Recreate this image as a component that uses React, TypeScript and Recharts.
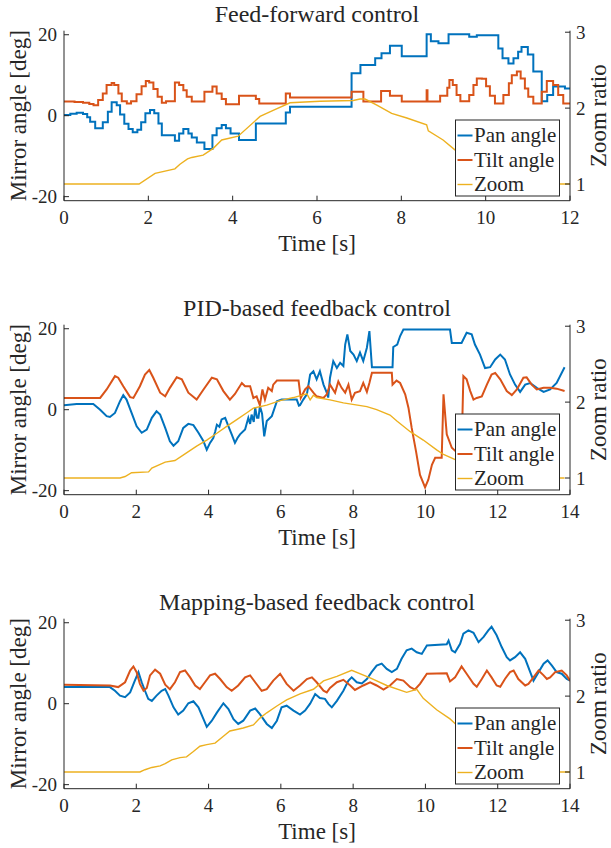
import React from "react";
import { Line, LineChart, XAxis, YAxis } from "recharts";

// ---------------------------------------------------------------------------
// Data — [time s, value] pairs
// ---------------------------------------------------------------------------

type Pt = [number, number];

const panelTitles = [
  "Feed-forward control",
  "PID-based feedback control",
  "Mapping-based feedback control",
];
const timeTicksShort = [0, 2, 4, 6, 8, 10, 12];
const timeTicksLong = [0, 2, 4, 6, 8, 10, 12, 14];
const angleTicks = [-20, 0, 20];
const zoomTicks = [1, 2, 3];
const legendLabels = ["Pan angle", "Tilt angle", "Zoom"];

// Feed-forward (stepped commands)
const ffPan: Pt[] = [
  [0, 0.2], [0.15, 0.5], [0.3, 0.7], [0.45, 0.4], [0.55, -0.4], [0.62, -1.5],
  [0.74, -3.1], [0.92, -1.6], [1.04, 1.0], [1.13, 3.3], [1.25, 2.6], [1.33, 0.3],
  [1.43, -2.0], [1.53, -3.3], [1.63, -4.1], [1.74, -3.5], [1.83, -1.6], [1.93, 0.6],
  [2.04, 1.4], [2.14, 0.6], [2.24, -1.9], [2.32, -4.8], [2.63, -6.2], [2.73, -4.4],
  [2.83, -3.3], [2.95, -4.4], [3.03, -5.4], [3.15, -6.6], [3.33, -8.2], [3.52, -4.8],
  [3.62, -3.1], [3.74, -2.3], [3.84, -3.1], [3.95, -4.4], [4.15, -6.0], [4.55, -1.9],
  [5.26, 0.8], [5.36, 2.2], [6.82, 10.5], [7.03, 12.5], [7.38, 14.2], [7.53, 15.4],
  [7.73, 17.3], [8.01, 14.7], [8.6, 20.1], [8.7, 18.4], [8.88, 17.9], [9.12, 20.1],
  [9.61, 19.5], [9.79, 19.9], [10.3, 16.6], [10.4, 14.2], [10.54, 12.9], [10.66, 14.2],
  [10.77, 15.8], [10.85, 17.0], [11.0, 15.1], [11.13, 10.9], [11.33, 3.6], [11.46, 5.1],
  [11.6, 7.2], [11.88, 6.7], [12.0, 6.7],
];
const ffTilt: Pt[] = [
  [0, 3.5], [0.25, 3.4], [0.45, 3.2], [0.6, 2.9], [0.7, 2.6], [0.81, 3.9], [0.92, 5.5],
  [1.01, 7.6], [1.13, 8.1], [1.19, 7.6], [1.29, 5.5], [1.37, 3.6], [1.49, 3.0],
  [1.59, 3.6], [1.72, 5.3], [1.84, 7.3], [1.94, 8.6], [2.02, 8.2], [2.12, 6.6],
  [2.22, 4.7], [2.32, 3.2], [2.42, 3.6], [2.63, 8.2], [2.73, 7.6], [2.83, 6.3],
  [2.91, 4.7], [3.03, 3.5], [3.33, 5.9], [3.52, 7.2], [3.62, 5.5], [3.74, 4.1],
  [3.84, 2.8], [4.15, 4.9], [4.55, 4.1], [4.63, 3.0], [5.26, 5.5], [5.36, 4.5],
  [6.82, 5.9], [7.1, 3.5], [7.52, 6.1], [7.73, 4.9], [8.01, 3.5], [8.6, 6.3],
  [8.62, 3.5], [8.92, 4.9], [9.09, 6.9], [9.14, 8.8], [9.22, 7.6], [9.31, 5.1],
  [9.4, 3.6], [9.61, 5.1], [9.71, 7.6], [9.79, 9.2], [9.91, 9.1], [10.01, 7.3],
  [10.1, 4.9], [10.22, 3.0], [10.42, 5.1], [10.55, 8.0], [10.62, 10.0], [10.74, 10.9],
  [10.83, 9.2], [10.93, 6.7], [11.01, 4.7], [11.13, 3.0], [11.33, 5.9], [11.45, 8.6],
  [11.6, 7.6], [11.72, 5.1], [11.84, 3.0], [12.0, 3.0],
];
const ffZoom: Pt[] = [
  [0, 1.0], [1.78, 1.0], [2.16, 1.14], [2.63, 1.2], [2.75, 1.26], [2.93, 1.33],
  [3.03, 1.35], [3.3, 1.38], [3.54, 1.47], [3.74, 1.58], [4.13, 1.63], [4.65, 1.89],
  [4.96, 1.97], [5.36, 2.07], [6.07, 2.09], [6.86, 2.1], [7.02, 2.12], [7.14, 2.12],
  [7.42, 2.04], [7.77, 1.93], [8.13, 1.87], [8.6, 1.78], [8.64, 1.7], [8.99, 1.58],
  [9.27, 1.45], [9.8, 1.28], [10.5, 1.05], [10.7, 1.0], [12.0, 1.0],
];

// PID-based feedback
const pidPan: Pt[] = [
  [0, 1.1], [0.35, 1.4], [0.81, 1.4], [1.0, 0], [1.18, -1.6], [1.27, -1.8], [1.41, -0.8],
  [1.55, 2.1], [1.64, 3.6], [1.73, 2.5], [1.87, -0.8], [2.01, -4.1], [2.15, -5.7],
  [2.29, -4.9], [2.43, -2.0], [2.56, -0.4], [2.66, -1.2], [2.8, -4.5], [2.93, -7.8],
  [3.03, -8.9], [3.16, -7.8], [3.3, -4.5], [3.44, -3.5], [3.58, -3.8], [3.72, -5.7],
  [3.86, -7.8], [3.95, -9.9], [4.04, -8.2], [4.13, -7.0], [4.18, -5.5], [4.23, -3.7],
  [4.3, -4.2], [4.36, -2.4], [4.46, -2.0], [4.55, -4.1], [4.64, -6.1], [4.73, -8.2],
  [4.8, -7.0], [4.87, -6.1], [5.01, -4.9], [5.1, -2.0], [5.15, -3.5], [5.19, -1.2],
  [5.25, -3.0], [5.29, 0.5], [5.34, -2.0], [5.38, -2.0], [5.42, 0.9], [5.48, -1.0],
  [5.54, -6.6], [5.61, -2.8], [5.75, -1.6], [5.89, 2.1], [6.02, 2.5], [6.44, 2.5],
  [6.5, 1.0], [6.53, 1.1], [6.62, 2.5], [6.72, 3.8], [6.81, 8.7], [6.9, 9.5],
  [6.99, 7.5], [7.08, 9.5], [7.18, 6.2], [7.27, 4.2], [7.31, 3.0], [7.36, 7.9],
  [7.45, 12.0], [7.55, 10.3], [7.64, 11.6], [7.73, 10.8], [7.78, 16.1], [7.84, 18.6],
  [7.92, 14.5], [8.01, 13.6], [8.1, 12.0], [8.19, 14.1], [8.28, 12.0], [8.38, 15.3],
  [8.45, 19.4], [8.52, 10.5], [9.09, 10.5], [9.11, 15.5], [9.22, 16.1], [9.3, 18.2],
  [9.39, 19.8], [10.68, 19.8], [10.73, 16.5], [11.0, 16.5], [11.14, 19.0], [11.28, 18.6],
  [11.37, 16.1], [11.51, 13.6], [11.65, 10.3], [11.79, 10.5], [11.93, 12.4], [12.07, 13.6],
  [12.2, 12.4], [12.34, 8.7], [12.48, 6.2], [12.62, 4.4], [12.76, 6.2], [12.9, 6.6],
  [13.08, 5.4], [13.27, 4.4], [13.45, 5.0], [13.63, 6.6], [13.85, 10.5],
];
const pidTilt: Pt[] = [
  [0, 2.9], [1.0, 2.9], [1.18, 5.0], [1.41, 8.3], [1.5, 7.9], [1.64, 5.8], [1.83, 3.1],
  [1.92, 2.9], [2.1, 5.8], [2.24, 8.7], [2.36, 9.8], [2.47, 7.9], [2.66, 4.2],
  [2.8, 3.3], [2.93, 5.4], [3.12, 8.0], [3.26, 7.5], [3.44, 4.2], [3.67, 2.5],
  [3.86, 5.0], [4.09, 7.9], [4.23, 7.5], [4.41, 4.6], [4.59, 2.5], [4.73, 3.9],
  [4.92, 6.6], [5.01, 5.8], [5.15, 5.8], [5.24, 2.9], [5.33, 3.3], [5.42, 1.1],
  [5.49, 5.0], [5.56, 2.5], [5.65, 5.4], [5.75, 4.6], [5.79, 6.2], [5.89, 7.2],
  [6.49, 7.2], [6.55, 2.9], [6.67, 5.0], [6.76, 5.8], [6.9, 4.2], [6.99, 3.3],
  [7.18, 2.9], [7.27, 3.8], [7.36, 6.2], [7.5, 4.2], [7.59, 7.0], [7.68, 5.4],
  [7.78, 4.2], [7.87, 6.2], [7.96, 2.5], [8.05, 4.2], [8.19, 4.6], [8.28, 6.6],
  [8.38, 4.4], [8.45, 6.6], [8.52, 9.1], [9.07, 9.1], [9.09, 6.2], [9.2, 7.2],
  [9.3, 6.6], [9.44, 3.8], [9.53, 0.5], [9.62, -4.5], [9.74, -10.3], [9.85, -16.1],
  [9.99, -19.2], [10.08, -17.3], [10.18, -13.6], [10.27, -11.9], [10.45, -11.9],
  [10.5, 3.8], [10.59, -6.1], [10.73, -9.4], [10.84, -10.3], [11.0, -10.5],
  [11.05, 8.3], [11.14, 7.5], [11.24, 4.6], [11.33, 2.5], [11.42, 2.9], [11.56, 3.3],
  [11.7, 6.2], [11.83, 8.7], [11.93, 9.1], [12.07, 7.5], [12.25, 4.6], [12.39, 3.6],
  [12.53, 5.0], [12.71, 7.9], [12.8, 8.0], [12.94, 6.2], [13.08, 5.0], [13.27, 5.4],
  [13.45, 5.4], [13.63, 5.2], [13.85, 4.6],
];
const pidZoom: Pt[] = [
  [0, 1.0], [1.55, 1.0], [1.69, 1.02], [1.87, 1.07], [2.34, 1.08], [2.43, 1.13],
  [2.8, 1.21], [3.07, 1.23], [3.39, 1.33], [3.67, 1.42], [3.95, 1.5], [4.23, 1.59],
  [4.5, 1.68], [4.78, 1.77], [5.06, 1.86], [5.24, 1.92], [5.61, 1.96], [5.98, 2.02],
  [6.35, 2.06], [6.72, 2.11], [6.81, 2.03], [6.9, 2.09], [6.99, 2.06], [7.36, 2.03],
  [7.73, 1.99], [8.38, 1.94], [8.65, 1.9], [9.02, 1.83], [9.21, 1.75], [9.58, 1.61],
  [9.94, 1.5], [10.31, 1.37], [10.5, 1.31], [10.84, 1.24], [11.3, 1.12], [11.7, 1.02],
  [11.9, 1.0], [13.85, 1.0],
];

// Mapping-based feedback
const mapPan: Pt[] = [
  [0, 4.1], [1.27, 4.1], [1.41, 3.2], [1.55, 2.0], [1.69, 1.6], [1.83, 2.8], [1.96, 5.7],
  [2.06, 7.8], [2.15, 5.3], [2.24, 3.2], [2.33, 1.2], [2.43, 0.7], [2.56, 2.0],
  [2.7, 3.2], [2.8, 3.6], [2.89, 2.0], [3.03, -0.9], [3.16, -2.7], [3.3, -1.7],
  [3.44, 0.1], [3.58, 0.6], [3.72, -0.9], [3.86, -3.8], [3.95, -5.7], [4.09, -4.2],
  [4.23, -2.2], [4.41, 0.1], [4.55, -1.3], [4.69, -3.8], [4.82, -5.0], [4.96, -4.2],
  [5.15, -1.7], [5.29, -1.2], [5.42, -2.6], [5.61, -5.0], [5.75, -6.0], [5.89, -4.2],
  [6.02, -0.9], [6.16, -0.5], [6.35, -1.7], [6.53, -2.7], [6.67, -1.7], [6.81, 0.0],
  [6.95, 2.4], [7.08, 1.4], [7.22, 1.2], [7.32, -0.1], [7.41, -0.9], [7.55, 0.7],
  [7.73, 3.2], [7.87, 5.7], [7.96, 6.5], [8.1, 5.3], [8.24, 5.0], [8.38, 6.1],
  [8.51, 7.8], [8.65, 9.4], [8.79, 9.9], [8.93, 8.6], [9.07, 7.8], [9.21, 8.6],
  [9.34, 11.1], [9.48, 13.2], [9.62, 13.6], [9.76, 12.7], [9.9, 12.3], [10.04, 14.4],
  [10.59, 14.7], [10.64, 15.6], [10.73, 13.2], [10.82, 12.7], [10.96, 14.8],
  [11.05, 17.3], [11.19, 18.1], [11.33, 17.5], [11.47, 15.2], [11.61, 16.5],
  [11.74, 18.1], [11.83, 19.0], [11.97, 16.9], [12.11, 14.0], [12.25, 11.5],
  [12.34, 10.7], [12.48, 11.5], [12.62, 12.7], [12.76, 11.1], [12.9, 7.8], [12.99, 5.7],
  [13.13, 7.8], [13.27, 9.9], [13.38, 10.7], [13.5, 9.4], [13.63, 7.8], [13.77, 7.4],
  [13.91, 6.1], [14.0, 5.7],
];
const mapTilt: Pt[] = [
  [0, 4.7], [1.27, 4.5], [1.5, 4.1], [1.69, 5.3], [1.83, 8.2], [1.92, 9.2], [2.01, 7.8],
  [2.1, 4.9], [2.2, 3.2], [2.29, 3.9], [2.38, 7.0], [2.52, 8.4], [2.66, 7.4],
  [2.8, 4.7], [2.93, 3.6], [3.07, 5.3], [3.21, 7.8], [3.35, 8.2], [3.49, 6.5],
  [3.63, 4.5], [3.76, 3.6], [3.9, 5.3], [4.04, 7.0], [4.18, 7.4], [4.32, 6.1],
  [4.5, 4.1], [4.64, 3.2], [4.82, 4.5], [5.01, 6.5], [5.15, 7.0], [5.29, 5.3],
  [5.47, 3.2], [5.61, 3.6], [5.79, 5.7], [5.98, 7.4], [6.16, 4.9], [6.35, 3.2],
  [6.53, 4.5], [6.72, 6.1], [6.86, 6.5], [6.99, 5.3], [7.18, 3.2], [7.27, 2.8],
  [7.36, 3.9], [7.55, 5.3], [7.73, 5.9], [7.92, 4.5], [8.05, 3.4], [8.28, 4.5],
  [8.47, 5.3], [8.65, 4.5], [8.84, 3.5], [9.02, 4.5], [9.21, 6.1], [9.39, 5.7],
  [9.58, 4.1], [9.71, 3.5], [9.85, 4.9], [10.04, 7.4], [10.59, 7.5], [10.68, 5.5],
  [10.82, 6.5], [11.0, 9.2], [11.14, 7.4], [11.33, 4.9], [11.42, 4.2], [11.56, 6.1],
  [11.7, 8.2], [11.83, 6.5], [11.97, 4.5], [12.07, 4.2], [12.2, 6.1], [12.34, 7.8],
  [12.44, 8.2], [12.57, 6.1], [12.76, 4.5], [12.85, 4.9], [12.99, 6.5], [13.13, 8.2],
  [13.27, 7.0], [13.36, 6.1], [13.45, 6.5], [13.59, 7.8], [13.77, 8.2], [13.91, 7.0],
  [14.0, 5.7],
];
const mapZoom: Pt[] = [
  [0, 1.0], [2.1, 1.0], [2.24, 1.03], [2.43, 1.06], [2.66, 1.08], [2.8, 1.11],
  [2.98, 1.16], [3.21, 1.19], [3.39, 1.2], [3.58, 1.27], [3.76, 1.34], [3.95, 1.36],
  [4.18, 1.38], [4.41, 1.47], [4.59, 1.54], [4.78, 1.56], [4.96, 1.58], [5.24, 1.62],
  [5.42, 1.71], [5.61, 1.78], [5.89, 1.87], [6.16, 1.95], [6.53, 2.03], [6.9, 2.09],
  [7.18, 2.2], [7.55, 2.26], [7.96, 2.34], [8.47, 2.24], [8.93, 2.14], [9.48, 2.05],
  [9.76, 2.09], [9.94, 1.97], [10.31, 1.82], [10.68, 1.7], [10.84, 1.63], [11.5, 1.45],
  [12.3, 1.2], [12.9, 1.02], [13.1, 1.0], [14.0, 1.0],
];

// ---------------------------------------------------------------------------
// Styling constants (MATLAB-like)
// ---------------------------------------------------------------------------

const W = 611;
const PANEL_H = 294;
const BOX_TOP = 30.7;
const BOX_BOTTOM = 200.7;
const BOX_LEFT = 64;
const BOX_RIGHT = 570;
const AXIS = "#262626";
const FONT = "Liberation Serif, Times New Roman, DejaVu Serif, serif";
const BLUE = "#0072BD";
const RED = "#D95319";
const YELLOW = "#EDB120";
const TICK_FS = 19;
const fontStyle = { fontFamily: FONT };

const toRows = (pts: Pt[]) => pts.map(([t, v]) => ({ t, v }));

// Inward MATLAB-style ticks: recharts gives us the axis-line coordinate
// (tickSize/tickMargin are 0), we draw the tick mark and label ourselves.
const BottomTick = (p: any) => (
  <g>
    <line x1={p.x} x2={p.x} y1={p.y} y2={p.y - 5} stroke={AXIS} strokeWidth={1} />
    <text x={p.x} y={p.y + 23} textAnchor="middle" style={fontStyle} fontSize={TICK_FS} fill={AXIS}>
      {p.payload.value}
    </text>
  </g>
);
const TopTick = (p: any) => (
  <line x1={p.x} x2={p.x} y1={p.y} y2={p.y + 5} stroke={AXIS} strokeWidth={1} />
);
const LeftTick = (p: any) => (
  <g>
    <line x1={p.x} x2={p.x + 5} y1={p.y} y2={p.y} stroke={AXIS} strokeWidth={1} />
    <text x={p.x - 7} y={p.y + 6.5} textAnchor="end" style={fontStyle} fontSize={TICK_FS} fill={AXIS}>
      {p.payload.value}
    </text>
  </g>
);
const RightTick = (p: any) => (
  <g>
    <line x1={p.x - 5} x2={p.x} y1={p.y} y2={p.y} stroke={AXIS} strokeWidth={1} />
    <text x={p.x + 6} y={p.y + 6.5} textAnchor="start" style={fontStyle} fontSize={TICK_FS} fill={AXIS}>
      {p.payload.value}
    </text>
  </g>
);

interface PanelProps {
  title: string;
  xMax: number;
  xTicks: number[];
  pan: Pt[];
  tilt: Pt[];
  zoom: Pt[];
  stepped: boolean;
}

function Panel({ title, xMax, xTicks, pan, tilt, zoom, stepped }: PanelProps) {
  const kind = stepped ? "stepAfter" : "linear";
  const legTop = 120;
  const legLeft = 455.5;
  const legColors = [BLUE, RED, YELLOW];
  const legRows = [15.5, 40, 64.5];
  const midY = (BOX_TOP + BOX_BOTTOM) / 2;
  const midX = (BOX_LEFT + BOX_RIGHT) / 2;
  return (
    <div style={{ position: "relative", width: W, height: PANEL_H }}>
      <LineChart
        width={W}
        height={PANEL_H}
        margin={{ top: BOX_TOP, right: 0, bottom: 0, left: 0 }}
      >
        <XAxis
          xAxisId="b"
          type="number"
          dataKey="t"
          domain={[0, xMax]}
          ticks={xTicks}
          interval={0}
          allowDataOverflow
          height={PANEL_H - BOX_BOTTOM}
          tickLine={false}
          tickSize={0}
          tickMargin={0}
          axisLine={{ stroke: AXIS }}
          tick={<BottomTick />}
        />
        <XAxis
          xAxisId="t"
          orientation="top"
          type="number"
          dataKey="t"
          domain={[0, xMax]}
          ticks={xTicks}
          interval={0}
          allowDataOverflow
          height={0}
          tickLine={false}
          tickSize={0}
          tickMargin={0}
          axisLine={{ stroke: AXIS }}
          tick={<TopTick />}
        />
        <YAxis
          yAxisId="l"
          type="number"
          domain={[-21, 21]}
          ticks={angleTicks}
          interval={0}
          allowDataOverflow
          width={BOX_LEFT}
          tickLine={false}
          tickSize={0}
          tickMargin={0}
          axisLine={{ stroke: AXIS }}
          tick={<LeftTick />}
        />
        <YAxis
          yAxisId="r"
          orientation="right"
          type="number"
          domain={[0.78, 3.02]}
          ticks={zoomTicks}
          interval={0}
          allowDataOverflow
          width={W - BOX_RIGHT}
          tickLine={false}
          tickSize={0}
          tickMargin={0}
          axisLine={{ stroke: AXIS }}
          tick={<RightTick />}
        />
        <Line
          xAxisId="b"
          yAxisId="l"
          data={toRows(pan)}
          dataKey="v"
          type={kind}
          stroke={BLUE}
          strokeWidth={2}
          dot={false}
          isAnimationActive={false}
        />
        <Line
          xAxisId="b"
          yAxisId="l"
          data={toRows(tilt)}
          dataKey="v"
          type={kind}
          stroke={RED}
          strokeWidth={2}
          dot={false}
          isAnimationActive={false}
        />
        <Line
          xAxisId="b"
          yAxisId="r"
          data={toRows(zoom)}
          dataKey="v"
          type="linear"
          stroke={YELLOW}
          strokeWidth={1.4}
          dot={false}
          isAnimationActive={false}
        />
      </LineChart>

      {/* Title, axis labels and legend box drawn over the chart */}
      <svg
        width={W}
        height={PANEL_H}
        style={{ position: "absolute", left: 0, top: 0, pointerEvents: "none", fontFamily: FONT }}
      >
        <text x={midX} y={22} textAnchor="middle" fontSize={24} fill={AXIS} style={fontStyle}>
          {title}
        </text>
        <text x={midX} y={251} textAnchor="middle" fontSize={23} fill={AXIS} style={fontStyle}>
          Time [s]
        </text>
        <text
          transform={`translate(26 ${midY}) rotate(-90)`}
          textAnchor="middle"
          fontSize={23}
          fill={AXIS}
          style={fontStyle}
        >
          Mirror angle [deg]
        </text>
        <text
          transform={`translate(606 ${midY}) rotate(-90)`}
          textAnchor="middle"
          fontSize={23}
          fill={AXIS}
          style={fontStyle}
        >
          Zoom ratio
        </text>
        <rect
          x={legLeft}
          y={legTop}
          width={104}
          height={76}
          fill="#ffffff"
          stroke={AXIS}
          strokeWidth={1}
        />
        {legendLabels.map((lab, i) => (
          <g key={lab}>
            <line
              x1={legLeft + 2}
              x2={legLeft + 17}
              y1={legTop + legRows[i]}
              y2={legTop + legRows[i]}
              stroke={legColors[i]}
              strokeWidth={i === 2 ? 1.4 : 2}
            />
            <text
              x={legLeft + 18.5}
              y={legTop + legRows[i] + 6.5}
              fontSize={21}
              fill={AXIS}
              style={fontStyle}
            >
              {lab}
            </text>
          </g>
        ))}
      </svg>
    </div>
  );
}

export default function App() {
  return (
    <div
      style={{
        position: "absolute",
        left: 0,
        top: 0,
        width: W,
        height: 848,
        background: "#ffffff",
        fontFamily: FONT,
      }}
    >
      <Panel
        title={panelTitles[0]}
        xMax={12}
        xTicks={timeTicksShort}
        pan={ffPan}
        tilt={ffTilt}
        zoom={ffZoom}
        stepped
      />
      <Panel
        title={panelTitles[1]}
        xMax={14}
        xTicks={timeTicksLong}
        pan={pidPan}
        tilt={pidTilt}
        zoom={pidZoom}
        stepped={false}
      />
      <Panel
        title={panelTitles[2]}
        xMax={14}
        xTicks={timeTicksLong}
        pan={mapPan}
        tilt={mapTilt}
        zoom={mapZoom}
        stepped={false}
      />
    </div>
  );
}
